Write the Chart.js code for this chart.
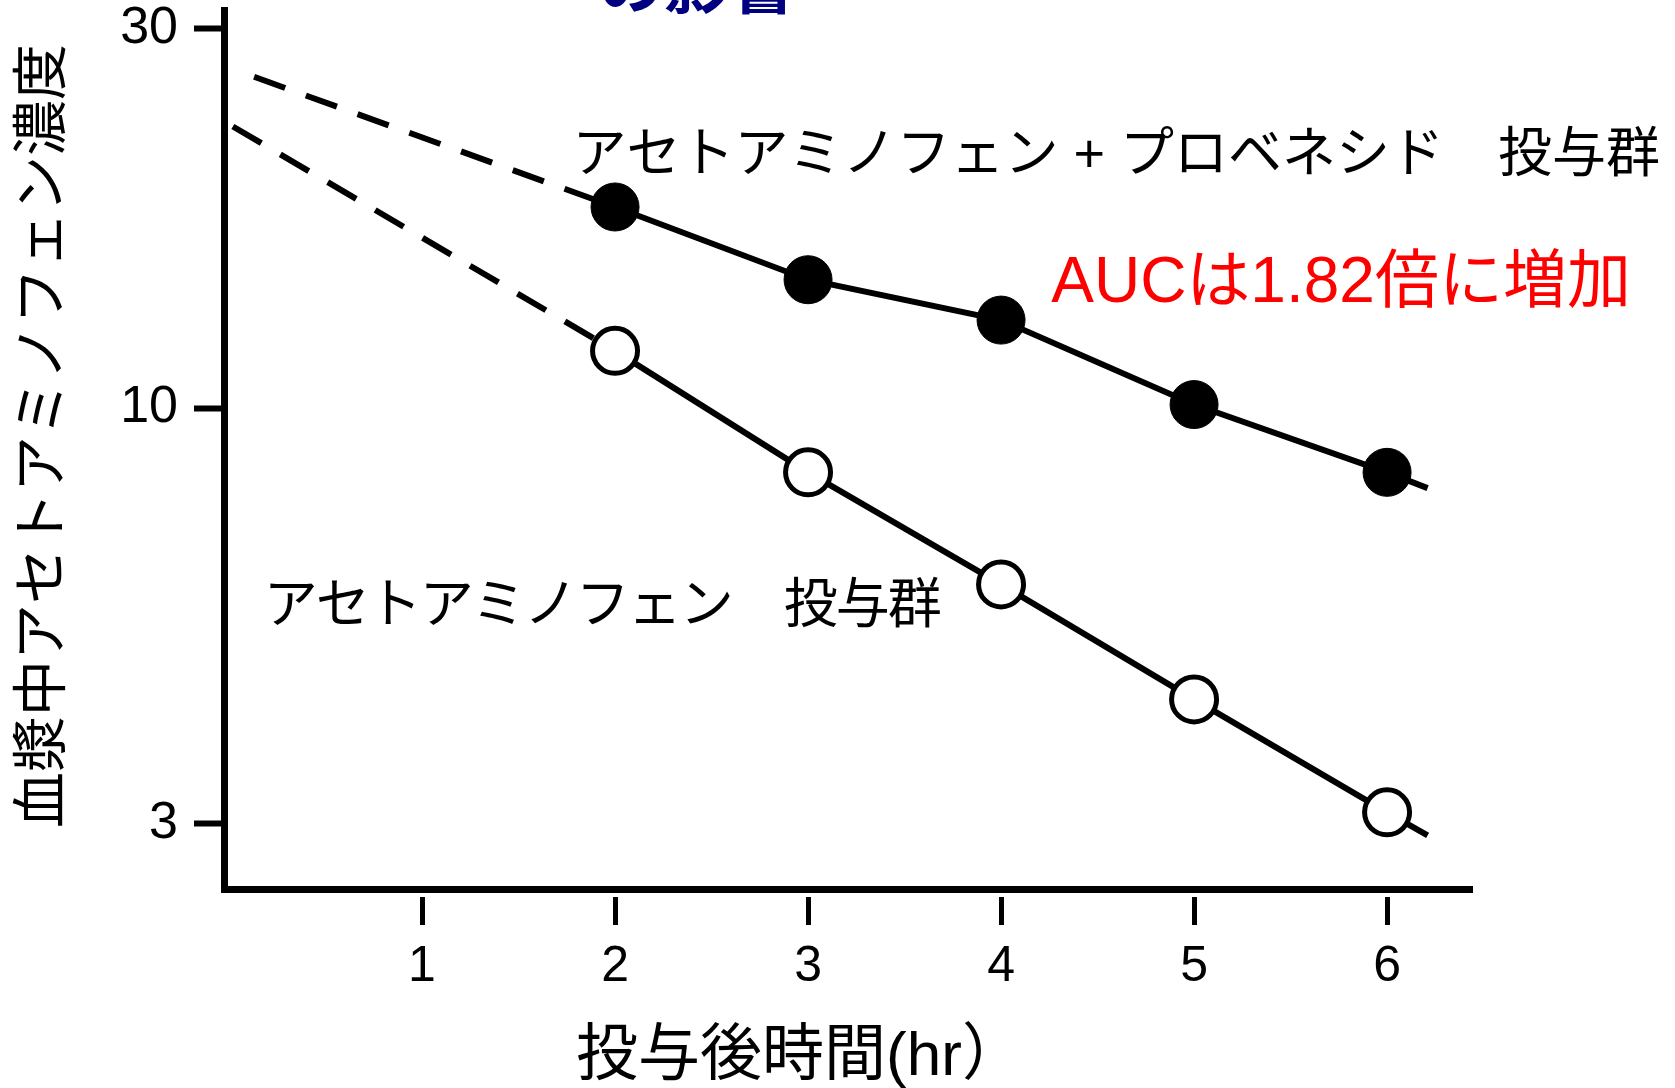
<!DOCTYPE html>
<html lang="ja">
<head>
<meta charset="utf-8">
<title>血漿中アセトアミノフェン濃度</title>
<script src="https://cdn.jsdelivr.net/npm/chart.js@4.4.1/dist/chart.umd.min.js"></script>
<style>
  html, body { margin: 0; padding: 0; background: #fff; }
  #wrap { width: 1675px; height: 1088px; }
</style>
</head>
<body>
<div id="wrap"><canvas id="pkChart" width="1675" height="1088"></canvas></div>
<script>
// 投与後時間 (hr)
const hours = [2, 3, 4, 5, 6];
// アセトアミノフェン + プロベネシド 投与群
const withProbenecid = [17.9, 14.5, 12.9, 10.1, 8.3];
// アセトアミノフェン 投与群
const acetaminophenOnly = [11.8, 8.3, 6.0, 4.3, 3.1];

// dashed back-extrapolation toward time 0
const probenecidBackHours = [0.13, 2];
const probenecidBack = [26.1, 17.9];
const aloneBackHours = [0.02, 2];
const aloneBack = [22.6, 11.8];

// short solid run past the last sample
const tailHour = 6.21;
const probenecidTail = 7.93;
const aloneTail = 2.9;

const xTicks = [1, 2, 3, 4, 5, 6];
const yTicks = [3, 10, 30];

const LATIN = '"Liberation Sans", Arial, sans-serif';
const JP = '"Liberation Sans", "Noto Sans CJK JP", sans-serif';

function pts(xs, ys) {
    return xs.map((x, i) => ({ x: x, y: ys[i] }));
}

// free text on the plot (positions in data units)
const notes = [
    { text: 'アセトアミノフェン + プロベネシド　投与群', x: 1.78, y: 20.7, color: '#000', size: 54, spacing: 0 },
    { text: 'アセトアミノフェン　投与群', x: 0.18, y: 5.6, color: '#000', size: 54, spacing: -2 },
    { text: 'AUCは1.82倍に増加', x: 4.26, y: 14.3, color: '#ff0000', size: 64, spacing: 0 }
];

const textPlugin = {
    id: 'texts',
    afterDraw(chart) {
        const ctx = chart.ctx;
        const xs = chart.scales.x;
        const ys = chart.scales.y;
        ctx.save();
        ctx.textAlign = 'left';
        ctx.textBaseline = 'middle';
        notes.forEach(n => {
            ctx.fillStyle = n.color;
            ctx.font = n.size + 'px ' + JP;
            ctx.letterSpacing = n.spacing + 'px';
            ctx.fillText(n.text, xs.getPixelForValue(n.x), ys.getPixelForValue(n.y));
        });
        ctx.letterSpacing = '0px';

        // cut-off title at the very top
        ctx.fillStyle = '#000080';
        ctx.font = 'bold 66px "Noto Sans CJK JP", sans-serif';
        ctx.textBaseline = 'alphabetic';
        ctx.fillText('の影響', 598, 8);

        // axis titles
        ctx.fillStyle = '#000';
        ctx.font = '62px ' + JP;
        ctx.textAlign = 'center';
        ctx.textBaseline = 'middle';
        ctx.fillText('投与後時間(hr）', 800, 1058);

        ctx.font = '56px ' + JP;
        ctx.translate(45, 436);
        ctx.rotate(-Math.PI / 2);
        ctx.fillText('血漿中アセトアミノフェン濃度', 0, 0);
        ctx.restore();
    }
};

const ctx = document.getElementById('pkChart').getContext('2d');
new Chart(ctx, {
    type: 'line',
    data: {
        datasets: [
            {
                label: 'アセトアミノフェン + プロベネシド',
                data: pts(hours.concat([tailHour]), withProbenecid.concat([probenecidTail])),
                borderColor: '#000',
                borderWidth: 6,
                pointRadius: c => c.dataIndex < hours.length ? 24 : 0,
                pointBackgroundColor: '#000',
                pointBorderColor: '#000',
                pointBorderWidth: 1,
                fill: false
            },
            {
                label: 'アセトアミノフェン',
                data: pts(hours.concat([tailHour]), acetaminophenOnly.concat([aloneTail])),
                borderColor: '#000',
                borderWidth: 6,
                pointRadius: c => c.dataIndex < hours.length ? 22.5 : 0,
                pointBackgroundColor: '#fff',
                pointBorderColor: '#000',
                pointBorderWidth: 5,
                fill: false
            },
            {
                data: pts(probenecidBackHours, probenecidBack),
                borderColor: '#000',
                borderWidth: 6,
                borderDash: [33, 22],
                pointRadius: 0,
                fill: false
            },
            {
                data: pts(aloneBackHours, aloneBack),
                borderColor: '#000',
                borderWidth: 6,
                borderDash: [33, 22],
                pointRadius: 0,
                fill: false
            }
        ]
    },
    options: {
        responsive: false,
        animation: false,
        layout: {
            autoPadding: false,
            padding: { top: 10, right: 203, bottom: 0, left: 0 }
        },
        plugins: {
            legend: { display: false },
            tooltip: { enabled: false }
        },
        scales: {
            x: {
                type: 'linear',
                min: -0.026,
                max: 6.44,
                afterBuildTicks: s => { s.ticks = xTicks.map(v => ({ value: v })); },
                afterFit: s => {
                    s.height = 199;
                    s.paddingLeft = 0;
                    s.paddingRight = 0;
                },
                border: { color: '#000', width: 7 },
                grid: {
                    drawOnChartArea: false,
                    tickLength: 36,
                    tickWidth: 5,
                    tickColor: '#000',
                    tickBorderDash: [0, 4, 100, 0]
                },
                ticks: {
                    color: '#000',
                    font: { family: LATIN, size: 50 },
                    padding: 12,
                    maxRotation: 0,
                    autoSkip: false
                }
            },
            y: {
                type: 'logarithmic',
                min: 2.483,
                max: 31.67,
                afterBuildTicks: s => { s.ticks = yTicks.map(v => ({ value: v })); },
                afterFit: s => {
                    s.width = 224;
                    s.paddingTop = 0;
                    s.paddingBottom = 0;
                },
                border: { color: '#000', width: 7 },
                grid: {
                    drawOnChartArea: false,
                    tickLength: 30,
                    tickWidth: 6,
                    tickColor: '#000'
                },
                ticks: {
                    color: '#000',
                    font: { family: LATIN, size: 52 },
                    padding: 16,
                    callback: v => String(v)
                }
            }
        }
    },
    plugins: [textPlugin]
});
</script>
</body>
</html>
